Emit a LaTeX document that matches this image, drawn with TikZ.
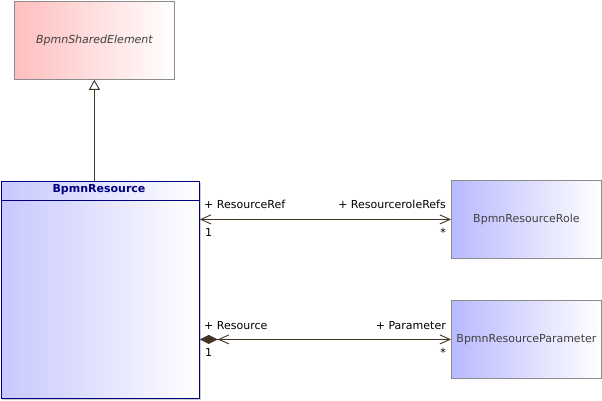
\documentclass[tikz,border=0pt]{standalone}
\usepackage{fontspec}
\setmainfont{DejaVu Sans}
\usetikzlibrary{arrows.meta}
\definecolor{linec}{RGB}{66,54,38}
\definecolor{graybd}{RGB}{140,140,140}
\definecolor{navy}{RGB}{0,0,128}
\definecolor{pinkL}{RGB}{255,190,190}
\definecolor{blueL}{RGB}{200,200,255}
\definecolor{blueR}{RGB}{185,185,255}
\definecolor{txtgray}{RGB}{64,64,64}
\tikzset{
  base/.style={font=\fontsize{11}{13}\selectfont},
  classbox/.style={draw=graybd, line width=0.8pt, rectangle, inner sep=0pt, anchor=north west, left color=blueR, right color=white, text=txtgray},
  assoc/.style={draw=linec, line width=0.9pt},
  mybarb/.tip={Straight Barb[length=10pt,width=9pt,line width=0.9pt]},
  lbl/.style={base, text=black, inner sep=0pt}
}
\begin{document}
\begin{tikzpicture}[x=1pt,y=-1pt]
\useasboundingbox (0,0) rectangle (602,400);
% shared element
\node[classbox, left color=pinkL, minimum width=160pt, minimum height=78pt, base] (shared) at (14,1) {\itshape BpmnSharedElement};
% resource shadow
\fill[black!20] (2,183) rectangle (201,400);
\node[classbox, draw=navy, line width=1.2pt, left color=blueL, minimum width=198pt, minimum height=217pt] (res) at (0.6,180.6) {};
\node[base, font=\fontsize{11}{13}\selectfont\bfseries, text=navy, anchor=center] (restitle) at (99,190) {BpmnResource};
\draw[navy, line width=1pt] (res.west |- 0,200.5) coordinate (hl) -- (res.east |- hl);
% role and parameter
\node[classbox, minimum width=150pt, minimum height=78pt, base] (role) at (451,180) {BpmnResourceRole};
\node[classbox, minimum width=150pt, minimum height=78pt, base] (param) at (451,300) {BpmnResourceParameter};
% generalization
\draw[draw=linec, line width=0.9pt, -{Triangle[open,length=10pt,width=11pt,line width=0.9pt]}] (shared.south |- res.north) -- (shared.south);
% association 1
\draw[assoc, {mybarb}-{mybarb}] (res.east |- role.west) -- (role.west);
% association 2
\draw[assoc, {Diamond[length=18pt,width=9pt,fill=linec]mybarb}-{mybarb}] (res.east |- param.west) -- (param.west);
% labels
\node[lbl, anchor=base west] (l1) at (204,208) {+ ResourceRef};
\node[lbl, anchor=base east] (l2) at (446,208) {+ ResourceroleRefs};
\node[lbl, anchor=base west] (l3) at (205,236) {1};
\node[lbl, anchor=base] (l4) at (443,236) {*};
\node[lbl, anchor=base west] (l5) at (204,329) {+ Resource};
\node[lbl, anchor=base east] (l6) at (446,329) {+ Parameter};
\node[lbl, anchor=base west] (l7) at (205,356) {1};
\node[lbl, anchor=base] (l8) at (443,356) {*};
\end{tikzpicture}
\end{document}
